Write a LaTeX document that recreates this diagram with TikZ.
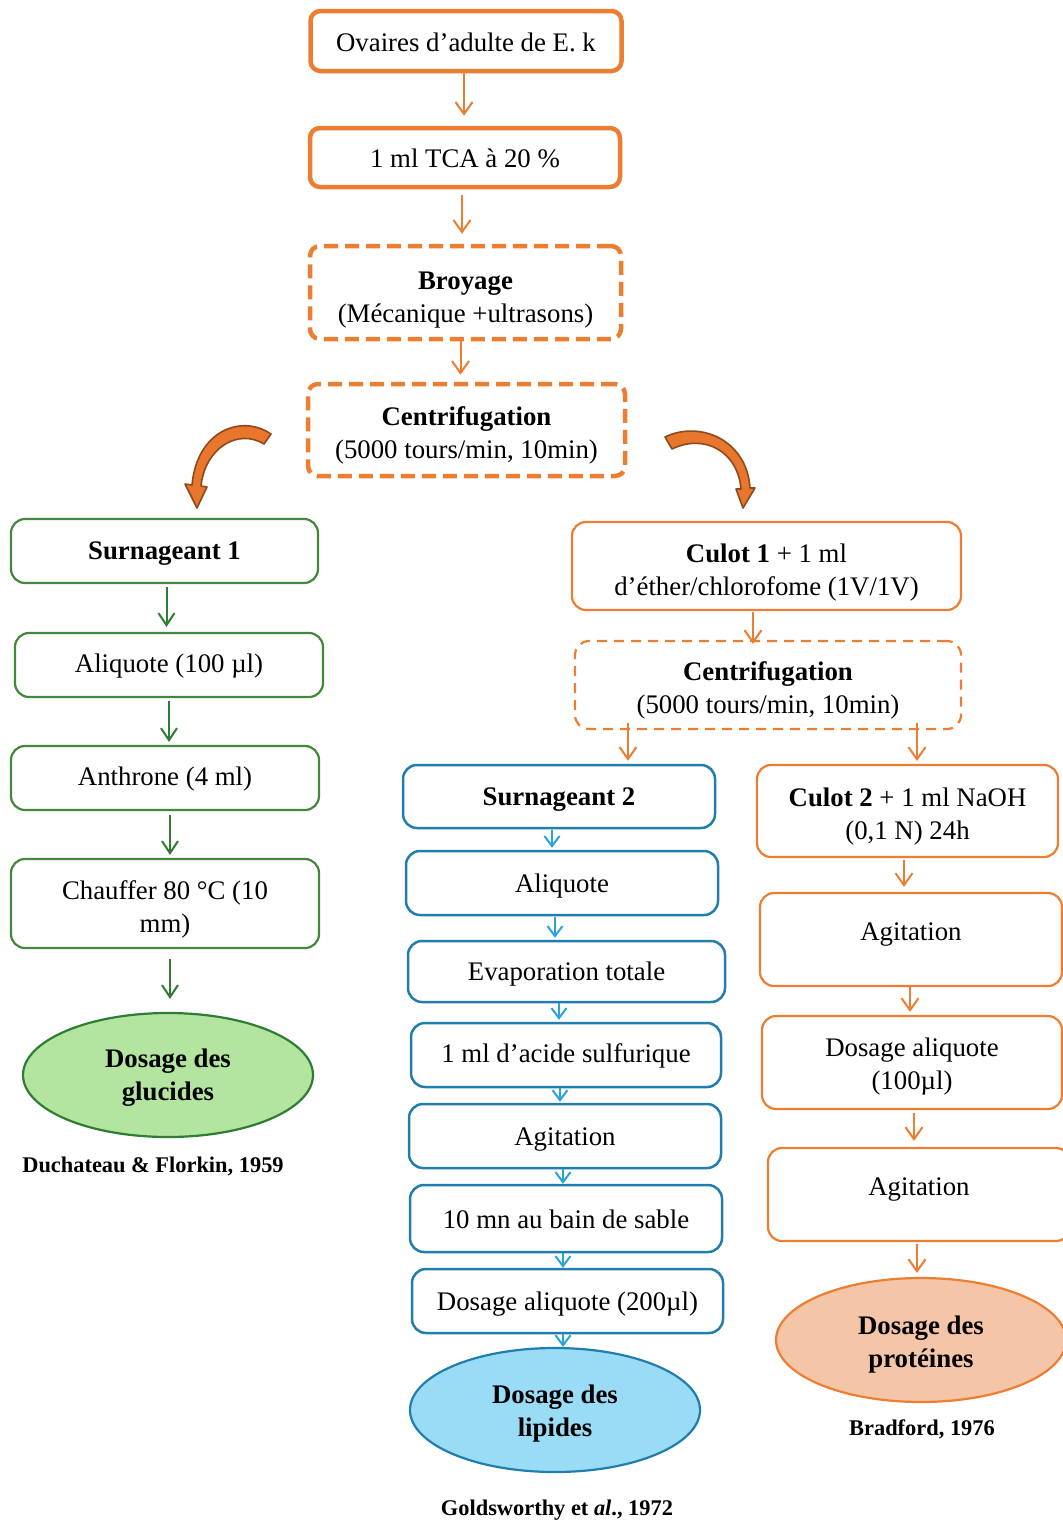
\documentclass[tikz,border=0pt]{standalone}
\usepackage{fontspec}
\setmainfont{Liberation Serif}
\usetikzlibrary{arrows.meta,shapes.geometric}
\definecolor{org}{HTML}{ED7D31}
\definecolor{grn}{HTML}{43873A}
\definecolor{grnar}{HTML}{2E7D32}
\definecolor{blu}{HTML}{1F7EAD}
\definecolor{bluar}{HTML}{29A3DC}
\definecolor{gfill}{HTML}{B3E4A0}
\definecolor{bfill}{HTML}{9ADBF6}
\definecolor{ofill}{HTML}{F5C5A8}
\definecolor{brn}{HTML}{8E4A1C}
\definecolor{arfill}{HTML}{E8762D}
\newcommand{\lowr}[1]{\rule{0pt}{#1}}
\begin{document}
\begin{tikzpicture}[x=1pt,y=-1pt,
  every node/.style={font=\fontsize{26.8}{33}\selectfont, align=center, inner sep=0pt},
  dn/.style={execute at begin node={\rule{0pt}{#1}}},
  bigbox/.style={draw=org, line width=4.5pt, rounded corners=10pt},
  bigdash/.style={bigbox, dash pattern=on 14pt off 7pt},
  obox/.style={draw=org, line width=2.2pt, rounded corners=14pt},
  odash/.style={obox, dash pattern=on 10pt off 7pt},
  gbox/.style={draw=grn, line width=2.2pt, rounded corners=14pt},
  bbox/.style={draw=blu, line width=2.5pt, rounded corners=14pt},
  ell/.style={ellipse, line width=2.2pt, minimum width=290pt, minimum height=124pt},
  cite/.style={font=\fontsize{22.4}{26}\selectfont\bfseries},
  oar/.style={draw=org, line width=2pt, -{Straight Barb[length=12pt,width=17pt]}},
  gar/.style={draw=grnar, line width=2pt, -{Straight Barb[length=12pt,width=16pt]}},
  bar/.style={draw=bluar, line width=2pt, -{Straight Barb[length=10pt,width=15pt]}},
  curar/.style={fill=arfill, draw=brn, line width=1.6pt, line join=round}
]
\useasboundingbox (0,0) rectangle (1063,1521);
\clip (0,0) rectangle (1063,1521);

% top chain
\node[bigbox, dn=21pt, minimum width=311pt, minimum height=60pt] (o1) at (466,41) {Ovaires d’adulte de E. k};
\node[bigbox, dn=21pt, minimum width=310pt, minimum height=59pt] (o2) at (465,157.5) {1 ml TCA à 20 \%};
\node[bigdash, minimum width=311pt, minimum height=93pt] (o3) at (465.5,292.5) {\lowr{32pt}\textbf{Broyage}\\(Mécanique +ultrasons)};
\node[bigdash, minimum width=317pt, minimum height=92pt] (o4) at (466.5,430) {\lowr{30pt}\textbf{Centrifugation}\\(5000 tours/min, 10min)};

\draw[oar, shorten >=10pt] ([xshift=-2pt]o1.south) -- ([xshift=-2pt]o1.south |- o2.north);
\draw[oar, shorten >=10pt, shorten <=6pt] ([xshift=-3pt]o2.south) -- ([xshift=-3pt]o2.south |- o3.north);
\draw[oar, shorten >=7pt] ([xshift=-5pt]o3.south) -- ([xshift=-5pt]o3.south |- o4.north);

% curved arrows
\draw[curar] (271,434) .. controls (242,414) and (197,430) .. (192,485)
  -- (185,484) -- (197,508) -- (207,487) -- (201,486)
  .. controls (205,448) and (238,428) .. (264,444) -- cycle;
\draw[curar] (665,437) .. controls (700,420) and (747,440) .. (750,488)
  -- (755,488) -- (743,508) -- (736,489) -- (741,489)
  .. controls (738,452) and (705,433) .. (672,449) -- cycle;

% left green column
\node[gbox, dn=22pt, minimum width=307pt, minimum height=64pt] (g1) at (164.5,551) {\textbf{Surnageant 1}};
\node[gbox, dn=20pt, minimum width=308pt, minimum height=64pt] (g2) at (169,665) {Aliquote (100 µl)};
\node[gbox, dn=20pt, minimum width=308pt, minimum height=64pt] (g3) at (165,778) {Anthrone (4 ml)};
\node[gbox, minimum width=308pt, minimum height=89pt] (g4) at (165,903.5) {\lowr{30pt}Chauffer 80 °C (10\\mm)};
\node[ell, draw=grnar, fill=gfill] (g5) at (168,1075) {\lowr{24pt}\textbf{Dosage des}\\\textbf{glucides}};
\node[cite] (gc) at (153,1166) {Duchateau \& Florkin, 1959};

\draw[gar, shorten <=3pt, shorten >=5pt] ([xshift=2pt]g1.south) -- ([xshift=2pt]g1.south |- g2.north);
\draw[gar, shorten <=3pt, shorten >=3pt] (g2.south) -- (g2.south |- g3.north);
\draw[gar, shorten <=4pt, shorten >=3pt] ([xshift=5pt]g3.south) -- ([xshift=5pt]g3.south |- g4.north);
\draw[gar, shorten <=10pt, shorten >=13pt] ([xshift=5pt]g4.south) -- ([xshift=5pt]g4.south |- g5.north);

% right upper
\node[obox, minimum width=389pt, minimum height=88pt] (r1) at (766.5,566) {\lowr{31pt}\textbf{Culot 1} + 1 ml\\d’éther/chlorofome (1V/1V)};
\node[odash, minimum width=386pt, minimum height=88pt] (r2) at (768,685) {\lowr{29pt}\textbf{Centrifugation}\\(5000 tours/min, 10min)};
\draw[oar, shorten >=-4pt, shorten <=1pt] ([xshift=-13.5pt]r1.south) -- ([xshift=-13.5pt]r1.south |- r2.north);

% blue column
\node[bbox, dn=24pt, minimum width=312pt, minimum height=63pt] (b1) at (559,796.5) {\textbf{Surnageant 2}};
\node[bbox, dn=24pt, minimum width=312pt, minimum height=64pt] (b2) at (562,883) {Aliquote};
\node[bbox, dn=23pt, minimum width=317pt, minimum height=61pt] (b3) at (566.5,971.5) {Evaporation totale};
\node[bbox, dn=20pt, minimum width=310pt, minimum height=64pt] (b4) at (566,1055) {1 ml d’acide sulfurique};
\node[bbox, dn=25pt, minimum width=312pt, minimum height=64pt] (b5) at (565,1136) {Agitation};
\node[bbox, dn=20pt, minimum width=312pt, minimum height=67pt] (b6) at (566,1218.5) {10 mn au bain de sable};
\node[bbox, dn=24pt, minimum width=311pt, minimum height=64pt] (b7) at (567.5,1301) {Dosage aliquote (200µl)};
\node[ell, draw=blu, fill=bfill] (b8) at (555,1410) {\lowr{25pt}\textbf{Dosage des}\\\textbf{lipides}};
\node[cite] (bc) at (557,1510) {Goldsworthy et \textit{al}., 1972};

\draw[oar, shorten <=-7pt, shorten >=3pt] ([xshift=-140pt]r2.south) -- ([xshift=-140pt]r2.south |- b1.north);

\draw[bar, shorten <=1pt, shorten >=2pt] ([xshift=-7pt]b1.south) -- ([xshift=-7pt]b1.south |- b2.north);
\draw[bar, shorten <=1pt, shorten >=2pt] ([xshift=-7pt]b2.south) -- ([xshift=-7pt]b2.south |- b3.north);
\draw[bar, shorten <=0pt, shorten >=2pt] ([xshift=-7.5pt]b3.south) -- ([xshift=-7.5pt]b3.south |- b4.north);
\draw[bar, shorten <=0pt, shorten >=1pt] ([xshift=-6pt]b4.south) -- ([xshift=-6pt]b4.south |- b5.north);
\draw[bar, shorten <=0pt, shorten >=0pt] ([xshift=-2pt]b5.south) -- ([xshift=-2pt]b5.south |- b6.north);
\draw[bar, shorten <=0pt, shorten >=0pt] ([xshift=-3pt]b6.south) -- ([xshift=-3pt]b6.south |- b7.north);
\draw[bar, shorten <=0pt, shorten >=0pt] ([xshift=-4.5pt]b7.south) -- ([xshift=-4.5pt]b7.south |- b8.north);

% orange right column
\node[obox, minimum width=301pt, minimum height=92pt] (c1) at (907.5,811) {\lowr{30pt}\textbf{Culot 2} + 1 ml NaOH\\(0,1 N) 24h};
\node[obox, minimum width=302pt, minimum height=93pt] (c2) at (911,939.5) {\lowr{21pt}Agitation\\[-14pt]~};
\node[obox, minimum width=300pt, minimum height=93pt] (c3) at (912,1062.5) {\lowr{26pt}Dosage aliquote\\(100µl)};
\node[obox, minimum width=302pt, minimum height=93pt] (c4) at (919,1194.5) {\lowr{21pt}Agitation\\[-14pt]~};
\node[ell, draw=org, fill=ofill] (c5) at (921,1340) {\lowr{27pt}\textbf{Dosage des}\\\textbf{protéines}};
\node[cite] (cc) at (922,1429) {Bradford, 1976};

\draw[oar, shorten <=-7pt, shorten >=3pt] ([xshift=149pt]r2.south) -- ([xshift=149pt]r2.south |- c1.north);
\draw[oar, shorten <=2pt, shorten >=5pt] ([xshift=-3.5pt]c1.south) -- ([xshift=-3.5pt]c1.south |- c2.north);
\draw[oar, shorten <=0pt, shorten >=3pt] ([xshift=-1pt]c2.south) -- ([xshift=-1pt]c2.south |- c3.north);
\draw[oar, shorten <=3pt, shorten >=6pt] ([xshift=2pt]c3.south) -- ([xshift=2pt]c3.south |- c4.north);
\draw[oar, shorten <=2pt, shorten >=4pt] ([xshift=-2pt]c4.south) -- ([xshift=-2pt]c4.south |- c5.north);
\end{tikzpicture}
\end{document}
